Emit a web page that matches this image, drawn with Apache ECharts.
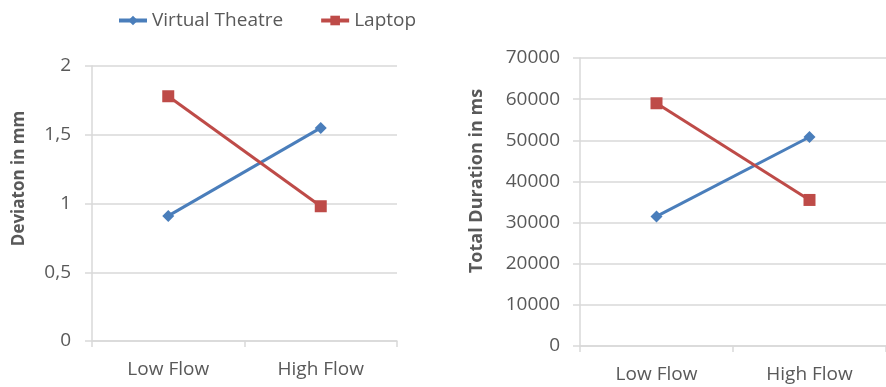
<!DOCTYPE html>
<html>
<head>
<meta charset="utf-8">
<script src="https://cdn.jsdelivr.net/npm/echarts@6/dist/echarts.min.js"></script>
<style>
  html, body { margin: 0; padding: 0; background: #fff; }
  #chart { width: 886px; height: 387px; }
</style>
</head>
<body>
<div id="chart"></div>
<script>
// Flow conditions on the category axis
const categories = ['Low Flow', 'High Flow'];

// Deviation in mm (left panel)
const deviationVirtual = [0.91, 1.55];
const deviationLaptop = [1.78, 0.98];

// Total duration in ms (right panel)
const durationVirtual = [31500, 50800];
const durationLaptop = [59000, 35500];

const BLUE = '#4a7ebb';
const RED = '#be4b48';
const TEXT = '#595959';
const GRID = '#d9d9d9';
const FONT = '"Open Sans", sans-serif';

function xAxis(gridIndex, margin) {
  return {
    type: 'category',
    gridIndex,
    data: categories,
    boundaryGap: true,
    axisLine: { lineStyle: { color: GRID, width: 1.5 } },
    axisTick: { show: true, length: 6, lineStyle: { color: GRID, width: 1.5 } },
    axisLabel: { color: TEXT, fontFamily: FONT, fontSize: 19, margin },
    splitLine: { show: false }
  };
}

// shift moves the rotated axis title up along the axis (via asymmetric padding)
function yAxis(gridIndex, max, interval, name, nameGap, nameSize, shift, labelMargin, formatter) {
  return {
    type: 'value',
    gridIndex,
    min: 0,
    max,
    interval,
    name,
    nameLocation: 'middle',
    nameGap,
    nameTextStyle: {
      color: TEXT, fontFamily: FONT, fontSize: nameSize, fontWeight: 'bold',
      padding: [0, 0, 0, shift * 2]
    },
    axisLine: { show: true, lineStyle: { color: GRID, width: 1.5 } },
    axisTick: { show: true, length: 7, lineStyle: { color: GRID, width: 1.5 } },
    axisLabel: { color: TEXT, fontFamily: FONT, fontSize: 19, margin: labelMargin, formatter },
    splitLine: { show: true, lineStyle: { color: GRID, width: 1.5 } }
  };
}

function lineSeries(name, data, axisIndex, color, symbol, size) {
  return {
    name,
    type: 'line',
    xAxisIndex: axisIndex,
    yAxisIndex: axisIndex,
    data,
    symbol,
    symbolSize: size,
    lineStyle: { color, width: 3 },
    itemStyle: { color },
    emphasis: { disabled: true },
    animation: false
  };
}

const chart = echarts.init(document.getElementById('chart'), null, { renderer: 'canvas' });
chart.setOption({
  backgroundColor: '#fff',
  animation: false,
  legend: {
    data: ['Virtual Theatre', 'Laptop'],
    left: 112,
    top: 6,
    itemWidth: 28,
    itemHeight: 12,
    itemGap: 36,
    lineStyle: { width: 4 },
    textStyle: { color: TEXT, fontFamily: FONT, fontSize: 19 }
  },
  grid: [
    { left: 92, top: 66, width: 305, height: 275 },
    { left: 580, top: 58, width: 316, height: 288 }
  ],
  xAxis: [xAxis(0, 19), xAxis(1, 19)],
  yAxis: [
    yAxis(0, 2, 0.5, 'Deviaton in mm', 64, 17, 25, 21, v => String(v).replace('.', ',')),
    yAxis(1, 70000, 10000, 'Total Duration in ms', 94, 18, 21, 20, v => String(v))
  ],
  series: [
    lineSeries('Virtual Theatre', deviationVirtual, 0, BLUE, 'diamond', 12),
    lineSeries('Laptop', deviationLaptop, 0, RED, 'rect', 12),
    lineSeries('Virtual Theatre', durationVirtual, 1, BLUE, 'diamond', 12),
    lineSeries('Laptop', durationLaptop, 1, RED, 'rect', 12)
  ]
});
</script>
</body>
</html>
